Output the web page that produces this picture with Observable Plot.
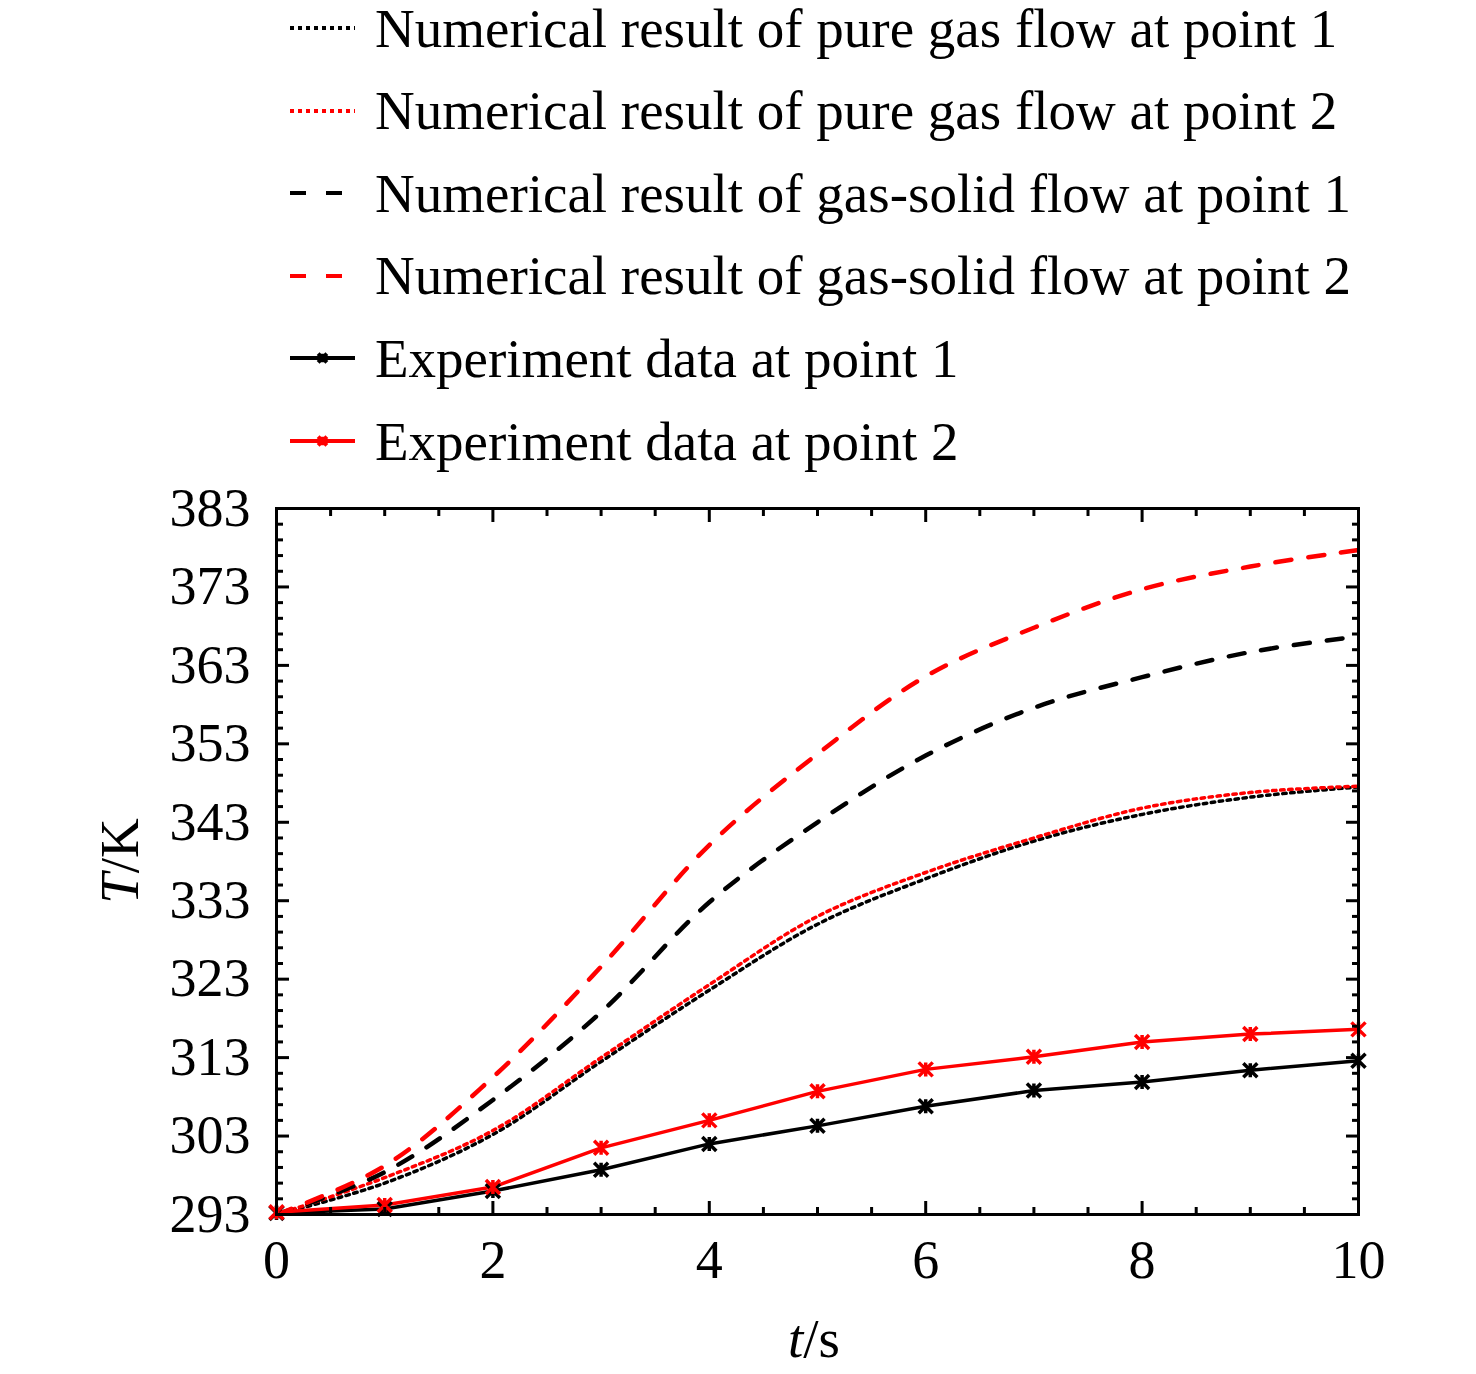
<!DOCTYPE html>
<html><head><meta charset="utf-8">
<script src="https://cdn.jsdelivr.net/npm/d3@7"></script>
<script src="https://cdn.jsdelivr.net/npm/@observablehq/plot@0.6"></script>
<style>
body{margin:0;background:#fff;width:1476px;}
#legend{position:relative;height:470px;font-family:"Liberation Serif","Times New Roman",serif;color:#000;}
.row{position:absolute;left:0;width:1476px;height:55px;}
.row svg{position:absolute;left:290px;top:17.5px;overflow:visible;}
.row span{position:absolute;left:375px;top:0;font-size:55px;line-height:55px;white-space:nowrap;}
#chart svg{display:block;}
</style></head><body>
<div id="legend"></div>
<div id="chart"></div>
<script>
// ---- data ----
const time = [0, 1, 2, 3, 4, 5, 6, 7, 8, 9, 10];
const pureGasP1 = [293.0, 297.0, 303.2, 312.5, 321.6, 330.0, 335.8, 340.6, 344.0, 346.2, 347.5];
const pureGasP2 = [293.0, 297.7, 303.7, 313.0, 322.3, 331.0, 336.6, 341.0, 344.8, 346.8, 347.6];
const gasSolidP1 = [293.0, 298.4, 307.6, 318.8, 332.8, 343.0, 351.5, 357.6, 361.5, 364.7, 366.7];
const gasSolidP2 = [293.0, 299.2, 310.5, 324.6, 340.1, 351.7, 361.6, 367.8, 372.7, 375.6, 377.7];
const expP1 = [293.2, 293.7, 296.0, 298.7, 302.0, 304.3, 306.8, 308.8, 309.9, 311.4, 312.6];
const expP2 = [293.3, 294.2, 296.5, 301.5, 305.0, 308.7, 311.5, 313.1, 315.0, 316.0, 316.6];

const xMajorTicks = [0, 2, 4, 6, 8, 10];
const yMajorTicks = [293, 303, 313, 323, 333, 343, 353, 363, 373, 383];
const xMinorTicks = d3.range(0, 10.01, 0.5).filter(v => v % 2 !== 0);
const yMinorTicks = d3.range(293, 383.01, 2).filter(v => (v - 293) % 10 !== 0);

const legendLabels = [
  "Numerical result of pure gas flow at point 1",
  "Numerical result of pure gas flow at point 2",
  "Numerical result of gas-solid flow at point 1",
  "Numerical result of gas-solid flow at point 2",
  "Experiment data at point 1",
  "Experiment data at point 2"
];

// ---- styles ----
const RED = "#ff0000", BLACK = "#000000";
const DOT = "3.5,4.5", DASH = "16,17";
const series = [
  {name: legendLabels[0], values: pureGasP1, color: BLACK, dash: DOT, width: 3.5, curve: "catmull-rom", marker: false},
  {name: legendLabels[1], values: pureGasP2, color: RED, dash: DOT, width: 3.5, curve: "catmull-rom", marker: false},
  {name: legendLabels[2], values: gasSolidP1, color: BLACK, dash: DASH, width: 4.5, curve: "catmull-rom", marker: false},
  {name: legendLabels[3], values: gasSolidP2, color: RED, dash: DASH, width: 4.5, curve: "catmull-rom", marker: false},
  {name: legendLabels[4], values: expP1, color: BLACK, dash: null, width: 3.5, curve: "linear", marker: true},
  {name: legendLabels[5], values: expP2, color: RED, dash: null, width: 3.5, curve: "linear", marker: true}
];

const zhe = {
  draw(ctx, size) {
    const r = Math.sqrt(size / Math.PI);
    ctx.moveTo(-r, -r); ctx.lineTo(r, r);
    ctx.moveTo(r, -r); ctx.lineTo(-r, r);
    ctx.moveTo(0, -r); ctx.lineTo(0, r);
  }
};

// ---- legend (HTML, above the SVG) ----
const legend = d3.select("#legend");
series.forEach((s, i) => {
  const row = legend.append("div").attr("class", "row").style("top", (0.5 + i * 82.6) + "px");
  const sv = row.append("svg").attr("width", 66).attr("height", 20);
  sv.append("line").attr("x1", 0).attr("x2", 65).attr("y1", 10).attr("y2", 10)
    .attr("stroke", s.color).attr("stroke-width", s.marker ? 4 : 4)
    .attr("stroke-dasharray", s.dash ? (s.dash === DOT ? "4,4" : "16,20") : null);
  if (s.marker) {
    sv.append("path").attr("transform", "translate(32.5,10)")
      .attr("d", d3.symbol(zhe, 60)()).attr("stroke", s.color).attr("stroke-width", 4).attr("fill", "none");
  }
  row.append("span").text(s.name);
});

// ---- chart ----
const rows = series.flatMap(s => time.map((tt, i) => ({t: tt, T: s.values[i], name: s.name})));
const lineMarks = series.map(s =>
  Plot.line(rows.filter(d => d.name === s.name), {
    x: "t", y: "T", stroke: s.color, strokeWidth: s.width,
    strokeDasharray: s.dash, curve: s.curve
  })
);
const dotMarks = series.filter(s => s.marker).map(s =>
  Plot.dot(rows.filter(d => d.name === s.name), {
    x: "t", y: "T", stroke: s.color, strokeWidth: 3.5, symbol: zhe, r: 7, fill: "none"
  })
);

const tickStyle = {stroke: BLACK, strokeWidth: 3, fill: "none", label: null};
const chart = Plot.plot({
  width: 1476,
  height: 904,
  marginTop: 38,
  marginBottom: 160,
  marginLeft: 276,
  marginRight: 118,
  style: {fontFamily: "Liberation Serif, Times New Roman, serif", background: "#fff", color: "#000"},
  x: {domain: [0, 10]},
  y: {domain: [293, 383]},
  marks: [
    ...lineMarks,
    ...dotMarks,
    // inward ticks on all four sides
    Plot.axisX(xMajorTicks, {...tickStyle, anchor: "bottom", tickSize: -13}),
    Plot.axisX(xMinorTicks, {...tickStyle, anchor: "bottom", tickSize: -7}),
    Plot.axisX(xMajorTicks, {...tickStyle, anchor: "top", tickSize: -13}),
    Plot.axisX(xMinorTicks, {...tickStyle, anchor: "top", tickSize: -7}),
    Plot.axisY(yMajorTicks, {...tickStyle, anchor: "left", tickSize: -13}),
    Plot.axisY(yMinorTicks, {...tickStyle, anchor: "left", tickSize: -7}),
    Plot.axisY(yMajorTicks, {...tickStyle, anchor: "right", tickSize: -13}),
    Plot.axisY(yMinorTicks, {...tickStyle, anchor: "right", tickSize: -7}),
    // tick labels
    Plot.axisX(xMajorTicks, {anchor: "bottom", tickSize: 0, tickPadding: 25, fontSize: 54, label: null, fill: BLACK}),
    Plot.axisY(yMajorTicks, {anchor: "left", tickSize: 0, tickPadding: 26, fontSize: 54, label: null, fill: BLACK}),
    Plot.frame({stroke: BLACK, strokeWidth: 3})
  ]
});
document.getElementById("chart").appendChild(chart);

// axis titles with italic symbols, positioned from the scales' ranges
const xs = chart.scale("x"), ys = chart.scale("y");
const svg = d3.select(chart);
const xMid = (xs.range[0] + xs.range[1]) / 2;
const yMid = (ys.range[0] + ys.range[1]) / 2;
const xt = svg.append("text").attr("x", xMid - 3).attr("y", ys.range[0] + 143)
  .attr("text-anchor", "middle").attr("font-size", 55).attr("fill", BLACK)
  .attr("font-family", "Liberation Serif, Times New Roman, serif");
xt.append("tspan").attr("font-style", "italic").text("t");
xt.append("tspan").text("/s");
const yt = svg.append("text").attr("transform", `translate(138,${yMid}) rotate(-90)`)
  .attr("text-anchor", "middle").attr("font-size", 55).attr("fill", BLACK)
  .attr("font-family", "Liberation Serif, Times New Roman, serif");
yt.append("tspan").attr("font-style", "italic").text("T");
yt.append("tspan").text("/K");
</script>
</body></html>
